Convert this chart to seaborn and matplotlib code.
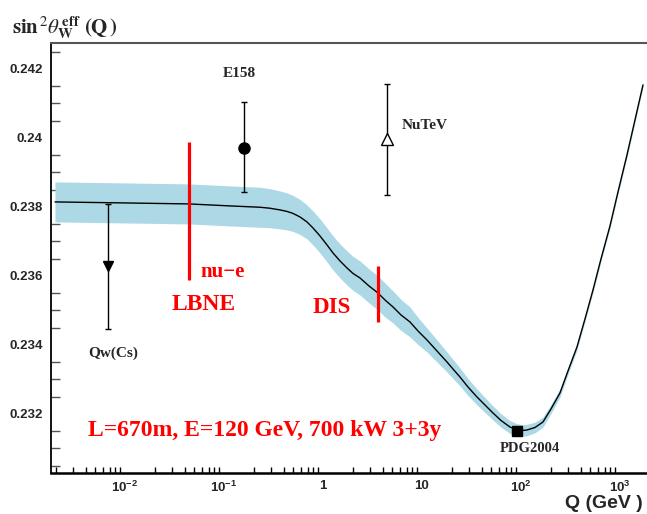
import numpy as np
import pandas as pd
import matplotlib
matplotlib.use("Agg")
import matplotlib.pyplot as plt
import seaborn as sns

# running weak mixing angle
q_gev = [0.001963, 0.00977, 0.04428, 0.1150, 0.2310, 0.2915, 0.3679, 0.4329, 0.4977,
         0.5857, 0.6893, 0.7924, 0.9326, 1.098, 1.262, 1.485, 1.748, 2.009, 2.364,
         2.915, 3.594, 4.229, 5.094, 6.137, 7.565, 9.112, 11.23, 14.17, 17.89, 20.56,
         24.20, 29.15, 35.94, 43.29, 52.15, 62.81, 77.43, 91.12, 102.3, 115.0, 138.5,
         166.8, 200.9, 247.7, 298.4, 367.9, 443.1, 533.8, 642.9, 792.5, 954.6, 1177,
         1418, 1708]
sin2_eff = [0.238145, 0.238116, 0.238087, 0.238029, 0.237991, 0.237962, 0.237913,
            0.237870, 0.237812, 0.237710, 0.237565, 0.237391, 0.237160, 0.236899,
            0.236667, 0.236435, 0.236232, 0.236073, 0.235942, 0.235710, 0.235507,
            0.235304, 0.235102, 0.234870, 0.234667, 0.234406, 0.234145, 0.233826,
            0.233507, 0.233304, 0.233072, 0.232783, 0.232493, 0.232261, 0.232029,
            0.231812, 0.231623, 0.231536, 0.231522, 0.231536, 0.231609, 0.231768,
            0.232145, 0.232609, 0.233246, 0.233942, 0.234754, 0.235594, 0.236493,
            0.237449, 0.238435, 0.239507, 0.240522, 0.241536]
sin2_err = [0.00058, 0.00058, 0.00058, 0.00058, 0.00058, 0.000565, 0.00055, 0.000536,
            0.000522, 0.000507, 0.000493, 0.000493, 0.000493, 0.000493, 0.000493,
            0.000493, 0.000493, 0.000493, 0.000493, 0.000493, 0.000493, 0.000493,
            0.000464, 0.000449, 0.000435, 0.000391, 0.000348, 0.000319, 0.00029,
            0.000275, 0.000261, 0.000246, 0.000232, 0.000217, 0.000203, 0.000194,
            0.000188, 0.000183, 0.000174, 0.000165, 0.000154, 0.000145, 0.00013,
            0.000116, 0.000101, 0.000087, 0.0000725, 0.0000725, 0.0000725, 0.0000725,
            0.0000725, 0.0000725, 0.0000725, 0.0000725]

# measurements
meas_names = ["Qw(Cs)", "E158", "NuTeV", "PDG2004"]
meas_q = [0.00673, 0.160, 4.47, 91.2]
meas_val = [0.23629, 0.23972, 0.23996, 0.23151]
meas_low = [0.23446, 0.23843, 0.23835, 0.23151]
meas_high = [0.23809, 0.24104, 0.24156, 0.23151]

# projected sensitivities (red bars)
lbne_q = 0.0443
lbne_span = [0.23588, 0.23988]
dis_q = 3.59
dis_span = [0.23467, 0.23629]

xtick_vals = [1e-2, 1e-1, 1, 10, 100, 1000]
xtick_labels = [r"$\mathbf{10^{-2}}$", r"$\mathbf{10^{-1}}$", "1", "10",
                r"$\mathbf{10^{2}}$", r"$\mathbf{10^{3}}$"]
ytick_vals = [0.232, 0.234, 0.236, 0.238, 0.24, 0.242]
ytick_labels = ["0.232", "0.234", "0.236", "0.238", "0.24", "0.242"]

sns.set_style("white")
plt.rcParams["font.family"] = ["Liberation Sans", "DejaVu Sans"]
plt.rcParams["mathtext.fontset"] = "custom"
plt.rcParams["mathtext.rm"] = "Liberation Sans:bold"
plt.rcParams["mathtext.bf"] = "Liberation Sans:bold"

fig = plt.figure(figsize=(6.47, 5.14), dpi=100)
ax = fig.add_axes([51 / 647, 41 / 514, 596 / 647, 430 / 514])
ax.set_xscale("log")

df = pd.DataFrame({"Q": q_gev, "s2": sin2_eff, "err": sin2_err})
ax.fill_between(df["Q"], df["s2"] - df["err"], df["s2"] + df["err"],
                color="#add8e6", lw=0, zorder=1)
sns.lineplot(data=df, x="Q", y="s2", color="black", lw=1.0, ax=ax, zorder=2)

markers = ["v", "o", "^", "s"]
faces = ["black", "black", "white", "black"]
sizes = [7, 8, 8, 7]
for i in range(len(meas_names)):
    yerr = [[meas_val[i] - meas_low[i]], [meas_high[i] - meas_val[i]]]
    ax.errorbar(meas_q[i], meas_val[i], yerr=yerr, fmt=markers[i],
                mfc=faces[i], mec="black", ms=sizes[i], color="black",
                ecolor="black", elinewidth=1.0, capsize=2.5, capthick=1.0, zorder=4)

ax.vlines(lbne_q, lbne_span[0], lbne_span[1], color="red", lw=2.3, zorder=5)
ax.vlines(dis_q, dis_span[0], dis_span[1], color="red", lw=2.3, zorder=5)

serif = ["Liberation Serif", "DejaVu Serif"]
ax.text(0.142, 0.24188, "E158", family=serif, weight="bold", fontsize=11,
        ha="center", va="center")
ax.text(6.28, 0.24035, "NuTeV", family=serif, weight="bold", fontsize=11,
        ha="left", va="center")
ax.text(0.00423, 0.23377, "Qw(Cs)", family=serif, weight="bold", fontsize=11,
        ha="left", va="center")
ax.text(123, 0.23099, "PDG2004", family=serif, weight="bold", fontsize=10.5,
        ha="center", va="center")
ax.text(0.0573, 0.23612, "nu\u2212e", family=serif, weight="bold", fontsize=15,
        color="red", ha="left", va="center")
ax.text(0.0298, 0.23516, "LBNE", family=serif, weight="bold", fontsize=17,
        color="red", ha="left", va="center")
ax.text(0.792, 0.23510, "DIS", family=serif, weight="bold", fontsize=16.5,
        color="red", ha="left", va="center")
ax.text(0.00423, 0.23151, "L=670m, E=120 GeV, 700 kW 3+3y", family=serif,
        weight="bold", fontsize=17, color="red", ha="left", va="center")

ax.set_xlim(0.00179, 1875)
ax.set_ylim(0.23029, 0.24275)
ax.set_xticks(xtick_vals, xtick_labels)
ax.set_yticks(ytick_vals, ytick_labels)
ax.yaxis.set_minor_locator(matplotlib.ticker.MultipleLocator(0.0005))
ax.xaxis.set_minor_locator(matplotlib.ticker.LogLocator(base=10, subs=np.arange(2, 10)))
ax.xaxis.set_minor_formatter(matplotlib.ticker.NullFormatter())
for lab in ax.get_xticklabels() + ax.get_yticklabels():
    lab.set_fontweight("bold")
    lab.set_fontsize(9.5)
ax.tick_params(axis="y", which="major", direction="in", length=12, width=1.2,
               color="black", pad=6)
ax.tick_params(axis="y", which="minor", direction="in", length=6.5, width=1.0,
               color="#555555", left=True)
ax.tick_params(axis="x", which="major", direction="in", length=9.5, width=1.2,
               color="black", pad=5)
ax.tick_params(axis="x", which="minor", direction="in", length=4.5, width=1.0,
               color="black", bottom=True)
ax.set_xlabel("")
ax.set_ylabel("")

ax.spines["left"].set_color("black")
ax.spines["left"].set_linewidth(1.3)
ax.spines["bottom"].set_color("black")
ax.spines["bottom"].set_linewidth(1.8)
ax.spines["top"].set_color("#555555")
ax.spines["top"].set_linewidth(1.5)
ax.spines["right"].set_visible(False)

fig.text(12 / 647, 1 - 33 / 514,
         r"$\mathbf{sin}^{\,2}\theta^{\,\mathbf{eff}}_{\mathbf{W}}\ \mathbf{(Q\,)}$",
         fontsize=15, math_fontfamily="stix", ha="left", va="baseline")
fig.text(643 / 647, 1 - 504 / 514, "Q (GeV )", fontsize=14, weight="bold",
         ha="right", va="center")

fig.savefig("out.png", dpi=100)
